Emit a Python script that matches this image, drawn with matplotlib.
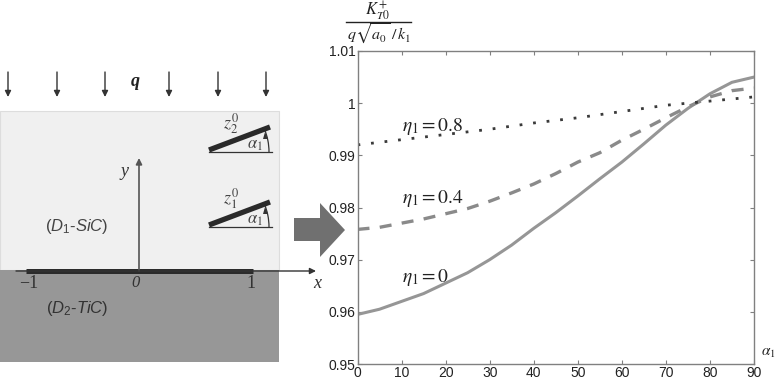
import matplotlib
matplotlib.use("Agg")
import matplotlib.pyplot as plt
from matplotlib.patches import Rectangle, Polygon, Arc

alpha = [0, 5, 10, 15, 20, 25, 30, 35, 40, 45, 50, 55, 60, 65, 70, 75, 80, 85, 90]
eta_0 = [0.9595, 0.9605, 0.9620, 0.9635, 0.9655, 0.9675, 0.9700, 0.9728, 0.9760, 0.9790, 0.9822, 0.9855, 0.9887, 0.9922, 0.9958, 0.9990, 1.0018, 1.0040, 1.0050]
eta_04 = [0.9758, 0.9762, 0.9770, 0.9778, 0.9788, 0.9798, 0.9812, 0.9828, 0.9845, 0.9865, 0.9887, 0.9905, 0.9929, 0.9950, 0.9972, 0.9993, 1.0012, 1.0024, 1.0029]
eta_08 = [0.9920, 0.9925, 0.9930, 0.9935, 0.9940, 0.9945, 0.9950, 0.9956, 0.9962, 0.9967, 0.9972, 0.9978, 0.9984, 0.9990, 0.9996, 1.0000, 1.0004, 1.0008, 1.0012]
x_ticks = [0, 10, 20, 30, 40, 50, 60, 70, 80, 90]
y_ticks = [0.95, 0.96, 0.97, 0.98, 0.99, 1.0, 1.01]
y_labels = ["0.95", "0.96", "0.97", "0.98", "0.99", "1", "1.01"]
curve_labels = [r"$\eta_1 = 0$", r"$\eta_1 = 0.4$", r"$\eta_1 = 0.8$"]
label_at = [(10.1, 0.9665), (10.1, 0.9817), (10.1, 0.9955)]

plt.rcParams["mathtext.fontset"] = "custom"
plt.rcParams["mathtext.it"] = "Liberation Sans:italic"
plt.rcParams["mathtext.rm"] = "Liberation Sans"

W, H = 778, 380
fig = plt.figure(figsize=(W / 100, H / 100), dpi=100, facecolor="white")
INK = "#333333"
sans = "Liberation Sans"
serif = "Liberation Serif"

# schematic, drawn in pixel coordinates
bg = fig.add_axes([0, 0, 1, 1])
bg.set_xlim(0, W)
bg.set_ylim(H, 0)
bg.axis("off")

bg.add_patch(Rectangle((0, 111), 279, 159, fc="#f0f0f0", ec="#dddddd", lw=0.8))
bg.add_patch(Rectangle((0, 270), 279, 92, fc="#979797", ec="none"))

for x in [8, 57, 105, 169, 218, 266]:
    bg.annotate("", xy=(x, 97), xytext=(x, 72),
                arrowprops=dict(arrowstyle="-|>", color=INK, lw=1.0, mutation_scale=9, shrinkA=0, shrinkB=0))
bg.text(135, 82, "q", family=serif, style="italic", weight="bold", fontsize=13, ha="center", va="center", color="#222222")

bg.annotate("", xy=(139, 158), xytext=(139, 271),
            arrowprops=dict(arrowstyle="-|>", color="#555555", lw=1.2, mutation_scale=9, shrinkA=0, shrinkB=0))
bg.annotate("", xy=(316, 271), xytext=(16, 271),
            arrowprops=dict(arrowstyle="-|>", color=INK, lw=1.0, mutation_scale=9, shrinkA=0, shrinkB=0))
bg.plot([26, 253], [270.5, 270.5], color="#2b2b2b", lw=3.6, solid_capstyle="butt")


def serif_text(x, y, s, size=12, style="italic", color=INK):
    bg.text(x, y, s, family=serif, style=style, fontsize=size, ha="center", va="center", color=color)


serif_text(125, 172, "y", 13)
serif_text(317, 284, "x", 13)
serif_text(136, 283, "0", 12)
serif_text(29, 284, "−1", 13, "normal")
serif_text(251, 283, "1", 13, "normal")

bg.text(77, 226, r"$(\mathit{D}_{\mathit{1}}\mathit{\text{-}SiC})$", fontsize=12, ha="center", va="center", color="#444444")
bg.text(77, 309, r"$(\mathit{D}_{\mathit{2}}\mathit{\text{-}TiC})$", fontsize=12, ha="center", va="center", color=INK)

for y0, sub in [(149, "2"), (224, "1")]:
    bg.plot([209, 270], [y0 + 1, y0 - 22], color="#2a2a2a", lw=3.8, solid_capstyle="butt")
    bg.plot([209, 272], [y0 + 3, y0 + 3], color=INK, lw=0.9)
    bg.add_patch(Arc((209, y0 + 3), 120, 120, theta1=-23, theta2=0, color=INK, lw=0.9))
    bg.add_patch(Polygon([[263, y0 - 10], [268, y0 - 10], [265, y0 - 17]], fc=INK, ec="none"))
    bg.text(255, y0 - 5, r"$\alpha_1$", math_fontfamily="stix", fontsize=12, ha="center", va="center", color="#444444")
    bg.text(231, y0 - 25, rf"$z_{sub}^0$", math_fontfamily="stix", fontsize=13, ha="center", va="center", color="#444444")

bg.add_patch(Polygon([[294, 218], [320, 218], [320, 203], [345, 230], [320, 257], [320, 241], [294, 241]],
                     fc="#707070", ec="none"))

# fraction above the y axis
bg.text(378, 11, r"$K_{T0}^{+}$", math_fontfamily="stix", fontsize=12, ha="center", va="center", color="#222222")
bg.plot([346, 411], [21.5, 21.5], color="#222222", lw=1.0)
bg.text(379, 34, r"$q\sqrt{a_0}\;/\,k_1$", math_fontfamily="stix", fontsize=11.5, ha="center", va="center", color="#222222")
bg.text(768, 352, r"$\alpha_1$", math_fontfamily="stix", fontsize=11, ha="center", va="center", color="#222222")

# chart
L, R, T, B = 357.5, 754, 51, 364
ax = fig.add_axes([L / W, 1 - B / H, (R - L) / W, (B - T) / H])
ax.patch.set_alpha(0)
ax.set_xlim(0, 90)
ax.set_ylim(0.95, 1.01)
ax.plot(alpha, eta_0, color="#969696", lw=2.2, solid_capstyle="round")
ax.plot(alpha, eta_04, color="#8a8a8a", lw=2.4, linestyle=(0, (3.6, 3.1)))
ax.plot(alpha, eta_08, color="#3a3a3a", lw=2.0, linestyle=(0, (1, 3.9)))
for s, (xv, yv) in zip(curve_labels, label_at):
    ax.text(xv, yv, s, math_fontfamily="stix", fontsize=14, ha="left", va="center", color="#222222")
ax.set_xticks(x_ticks)
ax.set_yticks(y_ticks, y_labels)
for s in ax.spines.values():
    s.set_color("#808080")
    s.set_linewidth(1.0)
ax.tick_params(direction="in", length=3, width=0.8, color="#808080", top=True, right=True,
               labelsize=10, labelcolor="#222222", pad=1.5)
for lab in ax.get_xticklabels() + ax.get_yticklabels():
    lab.set_family(sans)

fig.savefig("out.png", dpi=100)
